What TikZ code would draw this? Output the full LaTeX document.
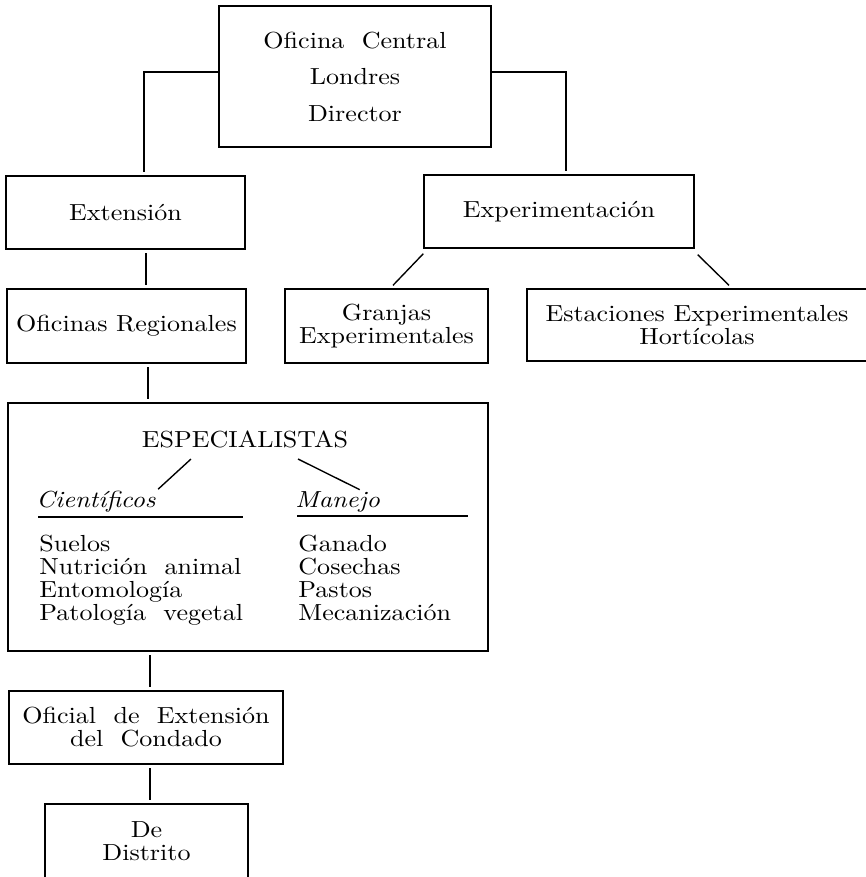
\documentclass[tikz,border=0pt]{standalone}
\usepackage{fontspec}
\setmainfont{lmroman10}[
  Extension=.otf,
  UprightFont=*-regular,
  BoldFont=*-bold,
  ItalicFont=*-italic,
  FakeStretch=1.12
]
\usetikzlibrary{calc}
\tikzset{
  every path/.style={
    black,
    line width=0.55pt
  },
  every node/.style={
    inner sep=1.5pt,
    font=\fontsize{9.3}{9.2}\selectfont
  },
  orgbox/.style 2 args={
    draw,
    align=center,
    minimum width=#1*0.4pt,
    minimum height=#2*0.4pt
  },
  vlink/.style={
    shorten <=1.5pt,
    shorten >=1.5pt
  }
}

\begin{document}
\begin{tikzpicture}[x=0.4pt,y=-0.4pt]
    \useasboundingbox (0,0) rectangle (865,877);

    % cajas
    \node[orgbox={272}{141},font=\fontsize{9.3}{14.6}\selectfont] (central)
        at (355,76.5) {Oficina\ \ Central\\Londres\\Director};
    \node[orgbox={239}{73}] (ext) at (125.5,212.5) {Extensión};
    \node[orgbox={270}{73}] (exp) at (559,211.5) {Experimentación};
    \node[orgbox={239}{74}] (reg) at (126.5,326) {Oficinas Regionales};
    \node[orgbox={203}{74}] (granjas) at (386.5,326) {Granjas\\Experimentales};
    \node[orgbox={340}{72}] (estac) at (697,325) {Estaciones Experimentales\\Hortícolas};
    \node[orgbox={480}{248}] (esp) at (248,527) {};
    \node[orgbox={274}{73}] (oficial) at (146,727.5) {Oficial\ \ de\ \ Extensión\\del\ \ Condado};
    \node[orgbox={203}{75}] (distrito) at (146.5,841.5) {De\\Distrito};

    % especialistas
    \node (espt) at (245,439) {ESPECIALISTAS};
    \node[anchor=base west] (cient) at (32,507) {\textit{Científicos}};
    \node[anchor=base west] (manejo) at (291,507) {\textit{Manejo}};
    \draw (38,517) -- (243,517);
    \draw (297,516) -- (468,516);
    \node[anchor=north west,align=left] (cientlist) at (35,531)
        {Suelos\\Nutrición\ \ animal\\Entomología\\Patología\ \ vegetal};
    \node[anchor=north west,align=left] (manejolist) at (294,531)
        {Ganado\\Cosechas\\Pastos\\Mecanización};
    \draw ($(espt.south)+(-54,7)$) -- ($(cient.north)+(62,3)$);
    \draw ($(espt.south)+(53,7)$) -- ($(manejo.north)+(22,3)$);

    % lineas
    \draw[shorten >=1.2pt] ($(central.west)+(0,-4.5)$) -| (144,0 |- ext.north);
    \draw[shorten >=1.2pt] ($(central.east)+(0,-4.5)$) -| (566,0 |- exp.north);
    \draw[vlink] (146,0 |- ext.south) -- (146,0 |- reg.north);
    \draw[vlink] (148,0 |- reg.south) -- (148,0 |- esp.north);
    \draw[vlink] (150,0 |- esp.south) -- (150,0 |- oficial.north);
    \draw[vlink] (150,0 |- oficial.south) -- (150,0 |- distrito.north);
    \draw ($(exp.south west)+(0,5)$) -- ($(granjas.north)+(6.5,-3)$);
    \draw ($(exp.south east)+(3,6)$) -- ($(estac.north)+(32,-3)$);
\end{tikzpicture}
\end{document}
